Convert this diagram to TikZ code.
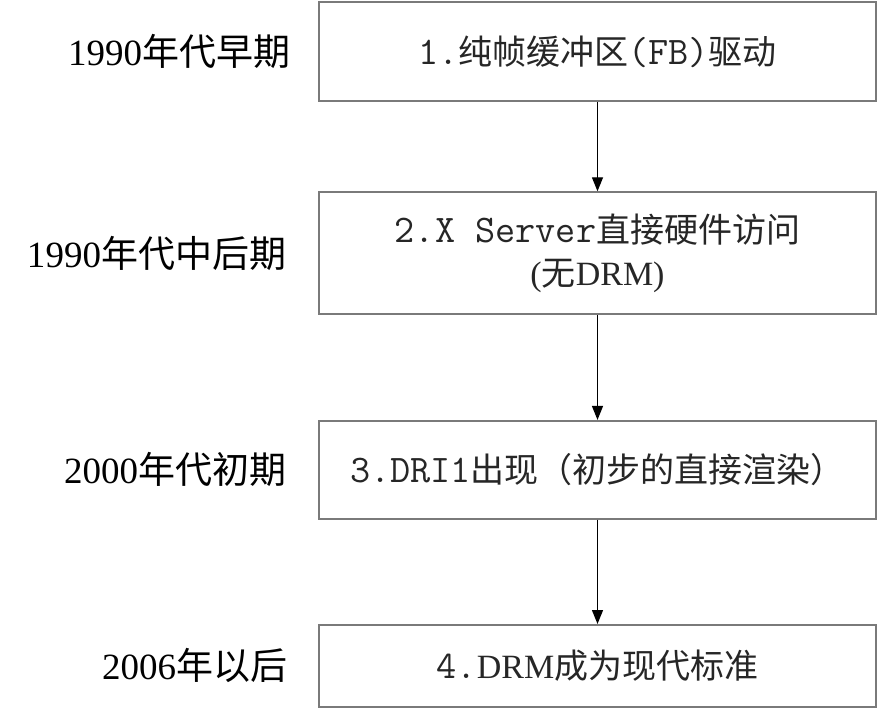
\documentclass[tikz,border=0pt]{standalone}
\usepackage{fontspec}
\setmainfont{Liberation Serif}
\setmonofont[Scale=1.15]{Latin Modern Mono}
\newfontfamily\cjk{Noto Sans CJK SC}
\usetikzlibrary{arrows.meta,positioning}
\definecolor{frame}{HTML}{7A7A7A}
\definecolor{ink}{HTML}{262626}

\begin{document}
\begin{tikzpicture}[x=1pt, y=1pt, >={Triangle[length=14pt,width=11pt]}, stage/.style={draw=frame,line width=1.6pt,minimum width=557pt,align=center,text=ink,font=\fontsize{34}{43}\selectfont}, era/.style={inner sep=0pt,font=\fontsize{37}{40}\selectfont}, flow/.style={->,line width=1.3pt}]
\useasboundingbox (0,0) rectangle (880,-711);
% stages
\node[stage,minimum height=99pt] (fb) at (597.5,-51.5) {{\ttfamily 1.}{\cjk 纯帧缓冲区}{\ttfamily (FB)}{\cjk 驱动}};
\node[stage,minimum height=122pt,below=89.5pt of fb] (xsrv) {{\ttfamily 2.X Server}{\cjk 直接硬件访问}\\({\cjk 无}DRM)};
\node[stage,minimum height=98pt,below=105pt of xsrv] (dri) {{\ttfamily 3.DRI1}{\cjk 出现（初步的直接渲染）}};
\node[stage,minimum height=82pt,below=104.5pt of dri] (drm) {{\ttfamily 4.}DRM{\cjk 成为现代标准}};
% eras
\node[era,left=28pt of fb] (t1) {1990{\cjk 年代早期}};
\node[era,left=32pt of xsrv] (t2) {1990{\cjk 年代中后期}};
\node[era,left=32pt of dri] (t3) {2000{\cjk 年代初期}};
\node[era,left=31pt of drm] (t4) {2006{\cjk 年以后}};
\draw[flow] (fb) -- (xsrv);
\draw[flow] (xsrv) -- (dri);
\draw[flow] (dri) -- (drm);
\end{tikzpicture}
\end{document}
